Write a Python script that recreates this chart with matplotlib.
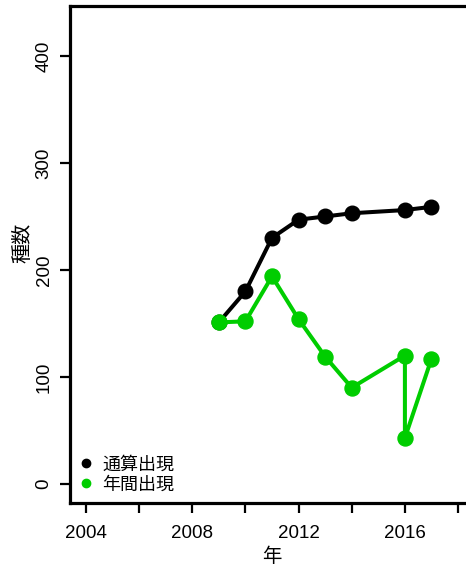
import matplotlib
matplotlib.use('Agg')
from matplotlib import pyplot as plt
from matplotlib.lines import Line2D

plt.rcParams['font.family'] = ['Liberation Sans', 'Noto Sans CJK JP', 'DejaVu Sans']

# データ
years_total = [2009, 2010, 2011, 2012, 2013, 2014, 2016, 2017]
n_total = [151, 180, 230, 247, 250, 253, 256, 259]
years_annual = [2009, 2010, 2011, 2012, 2013, 2014, 2016, 2016, 2017]
n_annual = [151, 152, 194, 154, 119, 90, 120, 43, 117]
legend_labels = ['通算出現', '年間出現']
xticks = [2004, 2006, 2008, 2010, 2012, 2014, 2016, 2018]
xtick_labels = ['2004', '', '2008', '', '2012', '', '2016', '']
yticks = [0, 100, 200, 300, 400]

green = '#00CD00'

fig = plt.figure(figsize=(4.66, 5.70), dpi=100)
ax = fig.add_axes([0.1502, 0.1175, 0.867, 0.872])

ax.plot(years_total, n_total, color='black', lw=2.9, marker='o', ms=10.5, zorder=3)
ax.plot(years_annual, n_annual, color=green, lw=2.9, marker='o', ms=10.8, zorder=4)

ax.set_xlim(2003.4, 2018.6)
ax.set_ylim(-17.8, 446.7)
ax.set_xticks(xticks)
ax.set_xticklabels(xtick_labels)
ax.set_yticks(yticks)
ax.set_yticklabels([str(v) for v in yticks], rotation=90, va='center')

for s in ['left', 'top', 'bottom']:
    ax.spines[s].set_linewidth(2.3)
ax.spines['right'].set_visible(False)
ax.tick_params(direction='out', length=7, width=1.6, labelsize=13.5, colors='black')
ax.tick_params(axis='y', pad=5.5)
ax.tick_params(axis='x', pad=9)

ax.set_xlabel('年', fontsize=14, labelpad=3.5)
ax.set_ylabel('種数', fontsize=14.5)
ax.yaxis.set_label_coords(-0.094, 0.523)

handles = [Line2D([], [], ls='none', marker='o', ms=6, color='black'),
           Line2D([], [], ls='none', marker='o', ms=6, color=green)]
ax.legend(handles, legend_labels, loc='lower left', frameon=False, fontsize=13,
          handlelength=0.8, handletextpad=0.5, labelspacing=0.15,
          borderaxespad=0.3, bbox_to_anchor=(-0.01, -0.006))

fig.savefig('out.png', dpi=100)
